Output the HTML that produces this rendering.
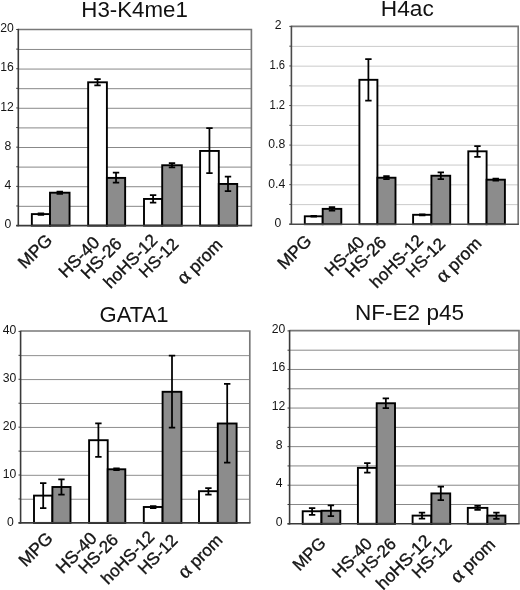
<!DOCTYPE html>
<html><head><meta charset="utf-8"><title>Histone modification ChIP charts</title>
<style>
html,body{margin:0;padding:0;background:#fff;}
svg{display:block;}
text{font-family:"Liberation Sans",sans-serif;fill:#151515;}
.yl{font-size:12.2px;}
.ti{font-size:22.6px;fill:#111;}
.xl{font-size:17.5px;stroke:#151515;stroke-width:0.35px;}
.al{font-family:"Liberation Serif","Liberation Sans",serif;font-size:20.5px;stroke-width:0.4px;}
</style></head><body>
<svg width="520" height="590" viewBox="0 0 520 590">
<rect width="520" height="590" fill="#fff"/>
<line x1="18.3" y1="49.46" x2="251.4" y2="49.46" stroke="#7a7a7a" stroke-width="0.9"/>
<line x1="18.3" y1="69.07" x2="251.4" y2="69.07" stroke="#7a7a7a" stroke-width="0.9"/>
<line x1="18.3" y1="88.68" x2="251.4" y2="88.68" stroke="#7a7a7a" stroke-width="0.9"/>
<line x1="18.3" y1="108.29" x2="251.4" y2="108.29" stroke="#7a7a7a" stroke-width="0.9"/>
<line x1="18.3" y1="127.9" x2="251.4" y2="127.9" stroke="#7a7a7a" stroke-width="0.9"/>
<line x1="18.3" y1="147.51" x2="251.4" y2="147.51" stroke="#7a7a7a" stroke-width="0.9"/>
<line x1="18.3" y1="167.12" x2="251.4" y2="167.12" stroke="#7a7a7a" stroke-width="0.9"/>
<line x1="18.3" y1="186.73" x2="251.4" y2="186.73" stroke="#7a7a7a" stroke-width="0.9"/>
<line x1="18.3" y1="206.34" x2="251.4" y2="206.34" stroke="#7a7a7a" stroke-width="0.9"/>
<path d="M18.3 29.5H251.4V225.6" fill="none" stroke="#787878" stroke-width="1.65"/>
<line x1="16.2" y1="29.5" x2="18.3" y2="29.5" stroke="#3a3a3a" stroke-width="1"/>
<line x1="16.2" y1="49.11" x2="18.3" y2="49.11" stroke="#3a3a3a" stroke-width="1"/>
<line x1="16.2" y1="68.72" x2="18.3" y2="68.72" stroke="#3a3a3a" stroke-width="1"/>
<line x1="16.2" y1="88.33" x2="18.3" y2="88.33" stroke="#3a3a3a" stroke-width="1"/>
<line x1="16.2" y1="107.94" x2="18.3" y2="107.94" stroke="#3a3a3a" stroke-width="1"/>
<line x1="16.2" y1="127.55" x2="18.3" y2="127.55" stroke="#3a3a3a" stroke-width="1"/>
<line x1="16.2" y1="147.16" x2="18.3" y2="147.16" stroke="#3a3a3a" stroke-width="1"/>
<line x1="16.2" y1="166.77" x2="18.3" y2="166.77" stroke="#3a3a3a" stroke-width="1"/>
<line x1="16.2" y1="186.38" x2="18.3" y2="186.38" stroke="#3a3a3a" stroke-width="1"/>
<line x1="16.2" y1="205.99" x2="18.3" y2="205.99" stroke="#3a3a3a" stroke-width="1"/>
<line x1="16.2" y1="225.6" x2="18.3" y2="225.6" stroke="#3a3a3a" stroke-width="1"/>
<rect x="31.85" y="214.1" width="18.15" height="11.5" fill="#ffffff" stroke="#000" stroke-width="1.9"/>
<rect x="50" y="192.7" width="19.55" height="32.9" fill="#8c8c8c" stroke="#000" stroke-width="1.9"/>
<rect x="88.15" y="82.3" width="18.75" height="143.3" fill="#ffffff" stroke="#000" stroke-width="1.9"/>
<rect x="106.9" y="177.9" width="18.25" height="47.7" fill="#8c8c8c" stroke="#000" stroke-width="1.9"/>
<rect x="144" y="198.95" width="18.2" height="26.65" fill="#ffffff" stroke="#000" stroke-width="1.9"/>
<rect x="162.2" y="165.25" width="19.6" height="60.35" fill="#8c8c8c" stroke="#000" stroke-width="1.9"/>
<rect x="200.1" y="150.95" width="18.7" height="74.65" fill="#ffffff" stroke="#000" stroke-width="1.9"/>
<rect x="218.8" y="183.95" width="18.4" height="41.65" fill="#8c8c8c" stroke="#000" stroke-width="1.9"/>
<line x1="18.3" y1="28.8" x2="18.3" y2="226.3" stroke="#3a3a3a" stroke-width="1.6"/>
<line x1="16.2" y1="225.6" x2="252.1" y2="225.6" stroke="#3a3a3a" stroke-width="1.6"/>
<path d="M40.92 213.4V214.8M37.72 213.4H44.12M37.72 214.8H44.12" fill="none" stroke="#000" stroke-width="1.75"/>
<path d="M59.77 191.6V193.8M56.57 191.6H62.98M56.57 193.8H62.98" fill="none" stroke="#000" stroke-width="1.75"/>
<path d="M97.53 79.2V85.4M94.33 79.2H100.73M94.33 85.4H100.73" fill="none" stroke="#000" stroke-width="1.75"/>
<path d="M116.03 172.7V182.5M112.83 172.7H119.23M112.83 182.5H119.23" fill="none" stroke="#000" stroke-width="1.75"/>
<path d="M153.1 195V202.6M149.9 195H156.3M149.9 202.6H156.3" fill="none" stroke="#000" stroke-width="1.75"/>
<path d="M172 163.2V167.3M168.8 163.2H175.2M168.8 167.3H175.2" fill="none" stroke="#000" stroke-width="1.75"/>
<path d="M209.45 128.1V173.1M206.25 128.1H212.65M206.25 173.1H212.65" fill="none" stroke="#000" stroke-width="1.75"/>
<path d="M228 176.5V191.1M224.8 176.5H231.2M224.8 191.1H231.2" fill="none" stroke="#000" stroke-width="1.75"/>
<text x="13.8" y="32.1" text-anchor="end" class="yl">20</text>
<text x="13.8" y="71.32" text-anchor="end" class="yl">16</text>
<text x="13.8" y="110.54" text-anchor="end" class="yl">12</text>
<text x="11.2" y="149.76" text-anchor="end" class="yl">8</text>
<text x="11.2" y="188.98" text-anchor="end" class="yl">4</text>
<text x="11.2" y="228.4" text-anchor="end" class="yl">0</text>
<text x="134.6" y="17" text-anchor="middle" class="ti" textLength="106.5" lengthAdjust="spacingAndGlyphs">H3-K4me1</text>
<text transform="translate(53.3 241.4) rotate(-45)" text-anchor="end" class="xl">MPG</text>
<text transform="translate(100.75 243.7) rotate(-45)" text-anchor="end" class="xl">HS-40</text>
<text transform="translate(123 244.8) rotate(-45)" text-anchor="end" class="xl">HS-26</text>
<text transform="translate(158.5 241.2) rotate(-45)" text-anchor="end" class="xl" style="font-size:17.2px">hoHS-12</text>
<text transform="translate(179.5 245.2) rotate(-45)" text-anchor="end" class="xl" style="font-size:16.8px">HS-12</text>
<text transform="translate(223.6 246) rotate(-45)" text-anchor="end" class="xl"><tspan class="al">α</tspan> prom</text>
<line x1="291.4" y1="46.38" x2="518.2" y2="46.38" stroke="#c4c4c4" stroke-width="0.9"/>
<line x1="291.4" y1="66.16" x2="518.2" y2="66.16" stroke="#c4c4c4" stroke-width="0.9"/>
<line x1="291.4" y1="85.94" x2="518.2" y2="85.94" stroke="#c4c4c4" stroke-width="0.9"/>
<line x1="291.4" y1="105.72" x2="518.2" y2="105.72" stroke="#c4c4c4" stroke-width="0.9"/>
<line x1="291.4" y1="125.5" x2="518.2" y2="125.5" stroke="#c4c4c4" stroke-width="0.9"/>
<line x1="291.4" y1="145.28" x2="518.2" y2="145.28" stroke="#c4c4c4" stroke-width="0.9"/>
<line x1="291.4" y1="165.06" x2="518.2" y2="165.06" stroke="#c4c4c4" stroke-width="0.9"/>
<line x1="291.4" y1="184.84" x2="518.2" y2="184.84" stroke="#c4c4c4" stroke-width="0.9"/>
<line x1="291.4" y1="204.62" x2="518.2" y2="204.62" stroke="#c4c4c4" stroke-width="0.9"/>
<path d="M291.4 26.4H518.2V224.2" fill="none" stroke="#787878" stroke-width="1.65"/>
<line x1="289.3" y1="26.4" x2="291.4" y2="26.4" stroke="#4a4a4a" stroke-width="1"/>
<line x1="289.3" y1="46.18" x2="291.4" y2="46.18" stroke="#4a4a4a" stroke-width="1"/>
<line x1="289.3" y1="65.96" x2="291.4" y2="65.96" stroke="#4a4a4a" stroke-width="1"/>
<line x1="289.3" y1="85.74" x2="291.4" y2="85.74" stroke="#4a4a4a" stroke-width="1"/>
<line x1="289.3" y1="105.52" x2="291.4" y2="105.52" stroke="#4a4a4a" stroke-width="1"/>
<line x1="289.3" y1="125.3" x2="291.4" y2="125.3" stroke="#4a4a4a" stroke-width="1"/>
<line x1="289.3" y1="145.08" x2="291.4" y2="145.08" stroke="#4a4a4a" stroke-width="1"/>
<line x1="289.3" y1="164.86" x2="291.4" y2="164.86" stroke="#4a4a4a" stroke-width="1"/>
<line x1="289.3" y1="184.64" x2="291.4" y2="184.64" stroke="#4a4a4a" stroke-width="1"/>
<line x1="289.3" y1="204.42" x2="291.4" y2="204.42" stroke="#4a4a4a" stroke-width="1"/>
<line x1="289.3" y1="224.2" x2="291.4" y2="224.2" stroke="#4a4a4a" stroke-width="1"/>
<rect x="304.8" y="216.29" width="17.9" height="7.91" fill="#ffffff" stroke="#000" stroke-width="1.9"/>
<rect x="322.7" y="208.87" width="18.6" height="15.33" fill="#8c8c8c" stroke="#000" stroke-width="1.9"/>
<rect x="359.4" y="79.81" width="18" height="144.39" fill="#ffffff" stroke="#000" stroke-width="1.9"/>
<rect x="377.4" y="177.72" width="18.1" height="46.48" fill="#8c8c8c" stroke="#000" stroke-width="1.9"/>
<rect x="413.1" y="214.8" width="18.3" height="9.4" fill="#ffffff" stroke="#000" stroke-width="1.9"/>
<rect x="431.4" y="175.74" width="18.8" height="48.46" fill="#8c8c8c" stroke="#000" stroke-width="1.9"/>
<rect x="468.3" y="151.31" width="18.3" height="72.89" fill="#ffffff" stroke="#000" stroke-width="1.9"/>
<rect x="486.6" y="179.69" width="18.3" height="44.5" fill="#8c8c8c" stroke="#000" stroke-width="1.9"/>
<line x1="291.4" y1="25.7" x2="291.4" y2="224.9" stroke="#4a4a4a" stroke-width="1.6"/>
<line x1="289.3" y1="224.2" x2="518.9" y2="224.2" stroke="#4a4a4a" stroke-width="1.6"/>
<path d="M313.75 215.89V216.69M310.55 215.89H316.95M310.55 216.69H316.95" fill="none" stroke="#000" stroke-width="1.75"/>
<path d="M332 207.17V210.57M328.8 207.17H335.2M328.8 210.57H335.2" fill="none" stroke="#000" stroke-width="1.75"/>
<path d="M368.4 59.04V100.58M365.2 59.04H371.6M365.2 100.58H371.6" fill="none" stroke="#000" stroke-width="1.75"/>
<path d="M386.45 176.23V179.2M383.25 176.23H389.65M383.25 179.2H389.65" fill="none" stroke="#000" stroke-width="1.75"/>
<path d="M422.25 214.3V215.3M419.05 214.3H425.45M419.05 215.3H425.45" fill="none" stroke="#000" stroke-width="1.75"/>
<path d="M440.8 172.28V179.2M437.6 172.28H444M437.6 179.2H444" fill="none" stroke="#000" stroke-width="1.75"/>
<path d="M477.45 146.08V156.95M474.25 146.08H480.65M474.25 156.95H480.65" fill="none" stroke="#000" stroke-width="1.75"/>
<path d="M495.75 178.71V180.68M492.55 178.71H498.95M492.55 180.68H498.95" fill="none" stroke="#000" stroke-width="1.75"/>
<text x="281.5" y="29.4" text-anchor="end" class="yl">2</text>
<text x="285" y="68.96" text-anchor="end" class="yl" textLength="15.6" lengthAdjust="spacingAndGlyphs">1.6</text>
<text x="285" y="108.52" text-anchor="end" class="yl" textLength="15.6" lengthAdjust="spacingAndGlyphs">1.2</text>
<text x="285.2" y="148.08" text-anchor="end" class="yl">0.8</text>
<text x="285.2" y="187.64" text-anchor="end" class="yl">0.4</text>
<text x="281.4" y="226.5" text-anchor="end" class="yl">0</text>
<text x="407.3" y="16.3" text-anchor="middle" class="ti" textLength="53" lengthAdjust="spacingAndGlyphs">H4ac</text>
<text transform="translate(312.75 242) rotate(-45)" text-anchor="end" class="xl">MPG</text>
<text transform="translate(365.5 243.2) rotate(-45)" text-anchor="end" class="xl" style="font-size:17.0px">HS-40</text>
<text transform="translate(387.3 243.5) rotate(-45)" text-anchor="end" class="xl">HS-26</text>
<text transform="translate(424.3 241.5) rotate(-45)" text-anchor="end" class="xl" style="font-size:17.0px">hoHS-12</text>
<text transform="translate(446.3 244.8) rotate(-45)" text-anchor="end" class="xl" style="font-size:16.8px">HS-12</text>
<text transform="translate(482.5 244.5) rotate(-45)" text-anchor="end" class="xl"><tspan class="al">α</tspan> prom</text>
<line x1="20.6" y1="355.64" x2="249.8" y2="355.64" stroke="#7a7a7a" stroke-width="0.85"/>
<line x1="20.6" y1="379.57" x2="249.8" y2="379.57" stroke="#7a7a7a" stroke-width="0.85"/>
<line x1="20.6" y1="403.51" x2="249.8" y2="403.51" stroke="#7a7a7a" stroke-width="0.85"/>
<line x1="20.6" y1="427.45" x2="249.8" y2="427.45" stroke="#7a7a7a" stroke-width="0.85"/>
<line x1="20.6" y1="451.39" x2="249.8" y2="451.39" stroke="#7a7a7a" stroke-width="0.85"/>
<line x1="20.6" y1="475.32" x2="249.8" y2="475.32" stroke="#7a7a7a" stroke-width="0.85"/>
<line x1="20.6" y1="499.26" x2="249.8" y2="499.26" stroke="#7a7a7a" stroke-width="0.85"/>
<path d="M20.6 331H249.8V522.9" fill="none" stroke="#787878" stroke-width="1.65"/>
<line x1="18.5" y1="331.4" x2="20.6" y2="331.4" stroke="#3a3a3a" stroke-width="1"/>
<line x1="18.5" y1="355.34" x2="20.6" y2="355.34" stroke="#3a3a3a" stroke-width="1"/>
<line x1="18.5" y1="379.27" x2="20.6" y2="379.27" stroke="#3a3a3a" stroke-width="1"/>
<line x1="18.5" y1="403.21" x2="20.6" y2="403.21" stroke="#3a3a3a" stroke-width="1"/>
<line x1="18.5" y1="427.15" x2="20.6" y2="427.15" stroke="#3a3a3a" stroke-width="1"/>
<line x1="18.5" y1="451.09" x2="20.6" y2="451.09" stroke="#3a3a3a" stroke-width="1"/>
<line x1="18.5" y1="475.02" x2="20.6" y2="475.02" stroke="#3a3a3a" stroke-width="1"/>
<line x1="18.5" y1="498.96" x2="20.6" y2="498.96" stroke="#3a3a3a" stroke-width="1"/>
<line x1="18.5" y1="522.9" x2="20.6" y2="522.9" stroke="#3a3a3a" stroke-width="1"/>
<rect x="34" y="495.61" width="18.4" height="27.29" fill="#ffffff" stroke="#000" stroke-width="1.9"/>
<rect x="52.4" y="486.99" width="18.1" height="35.91" fill="#8c8c8c" stroke="#000" stroke-width="1.9"/>
<rect x="89.1" y="440.2" width="18.6" height="82.7" fill="#ffffff" stroke="#000" stroke-width="1.9"/>
<rect x="107.7" y="469.28" width="17.6" height="53.62" fill="#8c8c8c" stroke="#000" stroke-width="1.9"/>
<rect x="143.8" y="507" width="18.8" height="15.9" fill="#ffffff" stroke="#000" stroke-width="1.9"/>
<rect x="162.6" y="391.8" width="18.8" height="131.1" fill="#8c8c8c" stroke="#000" stroke-width="1.9"/>
<rect x="199" y="491.2" width="18.8" height="31.7" fill="#ffffff" stroke="#000" stroke-width="1.9"/>
<rect x="217.8" y="423.5" width="18.8" height="99.4" fill="#8c8c8c" stroke="#000" stroke-width="1.9"/>
<line x1="20.6" y1="330.7" x2="20.6" y2="523.6" stroke="#3a3a3a" stroke-width="1.6"/>
<line x1="18.5" y1="522.9" x2="250.5" y2="522.9" stroke="#3a3a3a" stroke-width="1.6"/>
<path d="M43.2 483.16V508.06M40 483.16H46.4M40 508.06H46.4" fill="none" stroke="#000" stroke-width="1.75"/>
<path d="M61.45 479.33V494.65M58.25 479.33H64.65M58.25 494.65H64.65" fill="none" stroke="#000" stroke-width="1.75"/>
<path d="M98.4 423.32V456.83M95.2 423.32H101.6M95.2 456.83H101.6" fill="none" stroke="#000" stroke-width="1.75"/>
<path d="M116.5 468.32V470.24M113.3 468.32H119.7M113.3 470.24H119.7" fill="none" stroke="#000" stroke-width="1.75"/>
<path d="M153.2 506V508M150 506H156.4M150 508H156.4" fill="none" stroke="#000" stroke-width="1.75"/>
<path d="M172 355.5V427.5M168.8 355.5H175.2M168.8 427.5H175.2" fill="none" stroke="#000" stroke-width="1.75"/>
<path d="M208.4 488V494.5M205.2 488H211.6M205.2 494.5H211.6" fill="none" stroke="#000" stroke-width="1.75"/>
<path d="M227.2 383.8V462.5M224 383.8H230.4M224 462.5H230.4" fill="none" stroke="#000" stroke-width="1.75"/>
<text x="16.2" y="334" text-anchor="end" class="yl">40</text>
<text x="16.2" y="381.88" text-anchor="end" class="yl">30</text>
<text x="16.2" y="429.75" text-anchor="end" class="yl">20</text>
<text x="16.4" y="477.62" text-anchor="end" class="yl">10</text>
<text x="13.7" y="525.7" text-anchor="end" class="yl">0</text>
<text x="134.1" y="322.35" text-anchor="middle" class="ti" textLength="69" lengthAdjust="spacingAndGlyphs">GATA1</text>
<text transform="translate(54 539.25) rotate(-45)" text-anchor="end" class="xl">MPG</text>
<text transform="translate(98 539.3) rotate(-45)" text-anchor="end" class="xl">HS-40</text>
<text transform="translate(119.25 540.75) rotate(-45)" text-anchor="end" class="xl" style="font-size:17.0px">HS-26</text>
<text transform="translate(155.5 537.8) rotate(-45)" text-anchor="end" class="xl" style="font-size:17.0px">hoHS-12</text>
<text transform="translate(178.75 541.3) rotate(-45)" text-anchor="end" class="xl" style="font-size:17.0px">HS-12</text>
<text transform="translate(223.6 541.2) rotate(-45)" text-anchor="end" class="xl" style="font-size:17.0px"><tspan class="al">α</tspan> prom</text>
<line x1="289.6" y1="350.19" x2="519" y2="350.19" stroke="#7a7a7a" stroke-width="0.9"/>
<line x1="289.6" y1="369.48" x2="519" y2="369.48" stroke="#7a7a7a" stroke-width="0.9"/>
<line x1="289.6" y1="388.77" x2="519" y2="388.77" stroke="#7a7a7a" stroke-width="0.9"/>
<line x1="289.6" y1="408.06" x2="519" y2="408.06" stroke="#7a7a7a" stroke-width="0.9"/>
<line x1="289.6" y1="427.35" x2="519" y2="427.35" stroke="#7a7a7a" stroke-width="0.9"/>
<line x1="289.6" y1="446.64" x2="519" y2="446.64" stroke="#7a7a7a" stroke-width="0.9"/>
<line x1="289.6" y1="465.93" x2="519" y2="465.93" stroke="#7a7a7a" stroke-width="0.9"/>
<line x1="289.6" y1="485.22" x2="519" y2="485.22" stroke="#7a7a7a" stroke-width="0.9"/>
<line x1="289.6" y1="504.51" x2="519" y2="504.51" stroke="#7a7a7a" stroke-width="0.9"/>
<path d="M289.6 330.6H519V523.8" fill="none" stroke="#787878" stroke-width="1.65"/>
<line x1="287.5" y1="330.9" x2="289.6" y2="330.9" stroke="#3a3a3a" stroke-width="1"/>
<line x1="287.5" y1="350.19" x2="289.6" y2="350.19" stroke="#3a3a3a" stroke-width="1"/>
<line x1="287.5" y1="369.48" x2="289.6" y2="369.48" stroke="#3a3a3a" stroke-width="1"/>
<line x1="287.5" y1="388.77" x2="289.6" y2="388.77" stroke="#3a3a3a" stroke-width="1"/>
<line x1="287.5" y1="408.06" x2="289.6" y2="408.06" stroke="#3a3a3a" stroke-width="1"/>
<line x1="287.5" y1="427.35" x2="289.6" y2="427.35" stroke="#3a3a3a" stroke-width="1"/>
<line x1="287.5" y1="446.64" x2="289.6" y2="446.64" stroke="#3a3a3a" stroke-width="1"/>
<line x1="287.5" y1="465.93" x2="289.6" y2="465.93" stroke="#3a3a3a" stroke-width="1"/>
<line x1="287.5" y1="485.22" x2="289.6" y2="485.22" stroke="#3a3a3a" stroke-width="1"/>
<line x1="287.5" y1="504.51" x2="289.6" y2="504.51" stroke="#3a3a3a" stroke-width="1"/>
<line x1="287.5" y1="523.8" x2="289.6" y2="523.8" stroke="#3a3a3a" stroke-width="1"/>
<rect x="302.7" y="511.26" width="18.8" height="12.54" fill="#ffffff" stroke="#000" stroke-width="1.9"/>
<rect x="321.5" y="510.78" width="18.8" height="13.02" fill="#8c8c8c" stroke="#000" stroke-width="1.9"/>
<rect x="357.9" y="467.86" width="18.8" height="55.94" fill="#ffffff" stroke="#000" stroke-width="1.9"/>
<rect x="376.7" y="403.24" width="18.3" height="120.56" fill="#8c8c8c" stroke="#000" stroke-width="1.9"/>
<rect x="412.6" y="515.6" width="18.8" height="8.2" fill="#ffffff" stroke="#000" stroke-width="1.9"/>
<rect x="431.4" y="493.42" width="18.8" height="30.38" fill="#8c8c8c" stroke="#000" stroke-width="1.9"/>
<rect x="467.8" y="507.89" width="19.6" height="15.91" fill="#ffffff" stroke="#000" stroke-width="1.9"/>
<rect x="487.4" y="515.6" width="18" height="8.2" fill="#8c8c8c" stroke="#000" stroke-width="1.9"/>
<line x1="289.6" y1="330.2" x2="289.6" y2="524.5" stroke="#3a3a3a" stroke-width="1.6"/>
<line x1="287.5" y1="523.8" x2="519.7" y2="523.8" stroke="#3a3a3a" stroke-width="1.6"/>
<path d="M312.1 508.1V514.8M308.9 508.1H315.3M308.9 514.8H315.3" fill="none" stroke="#000" stroke-width="1.75"/>
<path d="M330.9 505.47V516.08M327.7 505.47H334.1M327.7 516.08H334.1" fill="none" stroke="#000" stroke-width="1.75"/>
<path d="M367.3 463.04V472.68M364.1 463.04H370.5M364.1 472.68H370.5" fill="none" stroke="#000" stroke-width="1.75"/>
<path d="M385.85 398.41V408.06M382.65 398.41H389.05M382.65 408.06H389.05" fill="none" stroke="#000" stroke-width="1.75"/>
<path d="M422 512.71V518.5M418.8 512.71H425.2M418.8 518.5H425.2" fill="none" stroke="#000" stroke-width="1.75"/>
<path d="M440.8 486.67V500.17M437.6 486.67H444M437.6 500.17H444" fill="none" stroke="#000" stroke-width="1.75"/>
<path d="M477.6 505.96V509.81M474.4 505.96H480.8M474.4 509.81H480.8" fill="none" stroke="#000" stroke-width="1.75"/>
<path d="M496.4 512.71V518.98M493.2 512.71H499.6M493.2 518.98H499.6" fill="none" stroke="#000" stroke-width="1.75"/>
<text x="285.2" y="332.9" text-anchor="end" class="yl">20</text>
<text x="285.2" y="371.48" text-anchor="end" class="yl">16</text>
<text x="285.2" y="410.06" text-anchor="end" class="yl">12</text>
<text x="282.5" y="448.64" text-anchor="end" class="yl">8</text>
<text x="282.5" y="487.22" text-anchor="end" class="yl">4</text>
<text x="282.5" y="526" text-anchor="end" class="yl">0</text>
<text x="409.5" y="319.65" text-anchor="middle" class="ti" textLength="109" lengthAdjust="spacingAndGlyphs">NF-E2 p45</text>
<text transform="translate(326.8 544.25) rotate(-45)" text-anchor="end" class="xl" style="font-size:17.0px">MPG</text>
<text transform="translate(373.1 544.8) rotate(-45)" text-anchor="end" class="xl" style="font-size:17.0px">HS-40</text>
<text transform="translate(397 545) rotate(-45)" text-anchor="end" class="xl" style="font-size:16.8px">HS-26</text>
<text transform="translate(432.1 541.9) rotate(-45)" text-anchor="end" class="xl">hoHS-12</text>
<text transform="translate(452.7 545.1) rotate(-45)" text-anchor="end" class="xl" style="font-size:17.0px">HS-12</text>
<text transform="translate(496.2 545.75) rotate(-45)" text-anchor="end" class="xl" style="font-size:17.0px"><tspan class="al">α</tspan> prom</text>
</svg>
</body></html>
